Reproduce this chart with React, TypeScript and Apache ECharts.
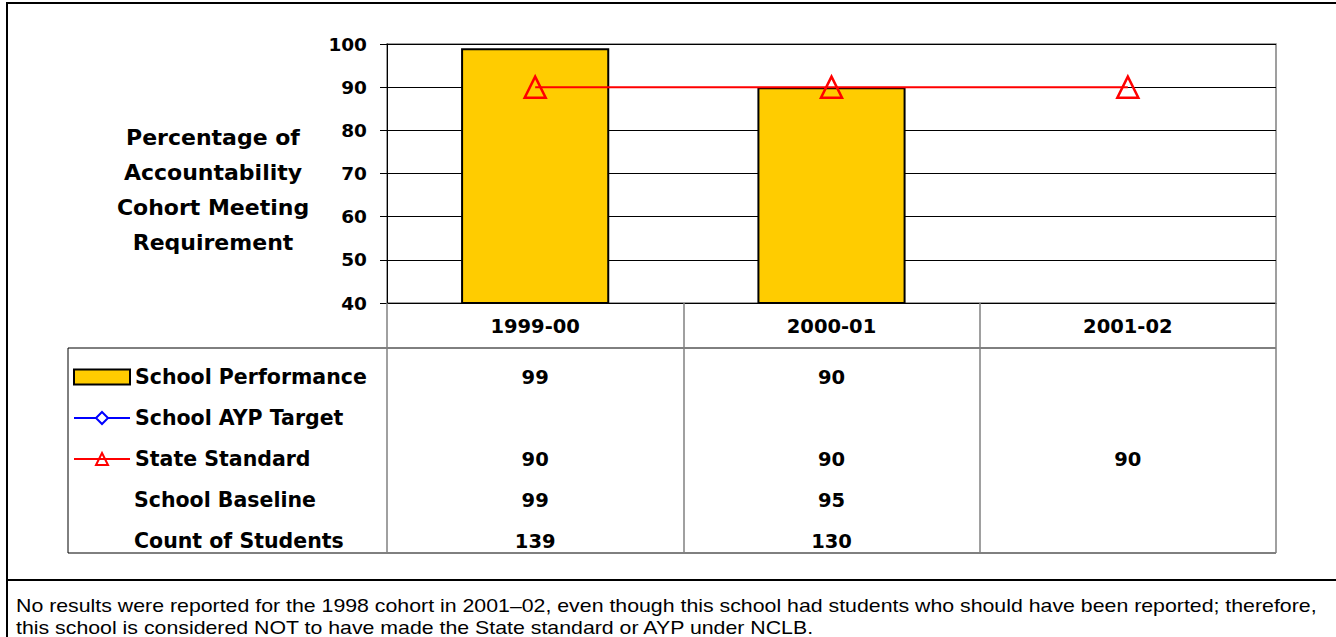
import React, { useEffect, useRef } from "react";
import * as echarts from "echarts";

const categories = ["1999-00", "2000-01", "2001-02"];
const schoolPerformance: (number | null)[] = [99, 90, null];
const schoolAypTarget: (number | null)[] = [null, null, null];
const stateStandard: (number | null)[] = [90, 90, 90];
const schoolBaseline: (number | null)[] = [99, 95, null];
const countOfStudents: (number | null)[] = [139, 130, null];
const yMin = 40;
const yMax = 100;
const yInterval = 10;

const rowNames = [
  "School Performance",
  "School AYP Target",
  "State Standard",
  "School Baseline",
  "Count of Students",
];
const rowValues = [schoolPerformance, schoolAypTarget, stateStandard, schoolBaseline, countOfStudents];

const yTitle = ["Percentage of", "Accountability", "Cohort Meeting", "Requirement"];
const caption =
  "No results were reported for the 1998 cohort in 2001\u201302, even though this school had students who should have been reported; therefore,\nthis school is considered NOT to have made the State standard or AYP under NCLB.";

const BOLD = "DejaVu Sans";

export default function App() {
  const ref = useRef<HTMLDivElement>(null);
  useEffect(() => {
    if (!ref.current) return;
    const chart = echarts.init(ref.current, undefined, { renderer: "svg" });

    const gridTop = 44;
    const gridBottomY = 303;
    const rowCenters = [377, 418, 459, 500, 541];

    const valueAxes = rowValues.map((vals, r) => ({
      type: "category",
      gridIndex: 0,
      position: "bottom",
      data: categories,
      axisLine: { show: false },
      axisTick: { show: false },
      splitLine: { show: false },
      axisLabel: {
        interval: 0,
        margin: rowCenters[r] - gridBottomY,
        verticalAlign: "middle",
        fontFamily: BOLD,
        fontWeight: "bold",
        fontSize: 19.5,
        color: "#000",
        formatter: (_v: string, i: number) => (vals[i] == null ? "" : String(vals[i])),
      },
    }));

    const option: any = {
      animation: false,
      backgroundColor: "#fff",
      grid: {
        left: 387,
        top: gridTop,
        right: 60,
        bottom: 637 - gridBottomY,
        show: true,
        borderColor: "#808080",
        borderWidth: 1.5,
      },
      xAxis: [
        {
          type: "category",
          gridIndex: 0,
          position: "bottom",
          data: categories,
          axisLine: { show: true, lineStyle: { color: "#000", width: 1 } },
          axisTick: {
            show: true,
            length: 553 - gridBottomY,
            lineStyle: { color: "#808080", width: 1.5 },
          },
          splitLine: { show: false },
          axisLabel: {
            interval: 0,
            margin: 23,
            verticalAlign: "middle",
            fontFamily: BOLD,
            fontWeight: "bold",
            fontSize: 19.5,
            color: "#000",
          },
        },
        ...valueAxes,
      ],
      yAxis: {
        type: "value",
        min: yMin,
        max: yMax,
        interval: yInterval,
        axisLine: { show: true, lineStyle: { color: "#000", width: 1 } },
        axisTick: { show: true, length: 7, lineStyle: { color: "#000" } },
        axisLabel: {
          margin: 20,
          fontFamily: BOLD,
          fontWeight: "bold",
          fontSize: 18.5,
          color: "#000",
        },
        splitLine: { show: true, lineStyle: { color: "#000", width: 1 } },
      },
      legend: {
        orient: "vertical",
        left: 73,
        top: 365,
        padding: 0,
        itemWidth: 56,
        itemHeight: 15,
        itemGap: 17,
        selectedMode: false,
        textStyle: {
          fontFamily: BOLD,
          fontWeight: "bold",
          fontSize: 20.5,
          color: "#000",
          lineHeight: 24,
        },
        data: [
          { name: rowNames[0], icon: "rect" },
          { name: rowNames[1] },
          { name: rowNames[2] },
        ],
      },
      series: [
        {
          name: rowNames[0],
          type: "bar",
          xAxisIndex: 0,
          data: schoolPerformance,
          barWidth: "50%",
          clip: true,
          itemStyle: { color: "#FFCC00", borderColor: "#000", borderWidth: 2 },
        },
        {
          name: rowNames[1],
          type: "line",
          xAxisIndex: 0,
          data: schoolAypTarget,
          symbol: "diamond",
          symbolSize: 14,
          lineStyle: { color: "#0000FF", width: 2 },
          itemStyle: { color: "#fff", borderColor: "#0000FF", borderWidth: 2 },
        },
        {
          name: rowNames[2],
          type: "line",
          xAxisIndex: 0,
          data: stateStandard,
          symbol: "triangle",
          symbolSize: 21,
          z: 5,
          lineStyle: { color: "#FF0000", width: 2 },
          itemStyle: { color: "rgba(0,0,0,0)", borderColor: "#FF0000", borderWidth: 2.5 },
        },
      ],
      graphic: [
        // outer frame
        { type: "line", shape: { x1: 6, y1: 3, x2: 1336, y2: 3 }, style: { stroke: "#000", lineWidth: 2 } },
        { type: "line", shape: { x1: 7, y1: 2, x2: 7, y2: 637 }, style: { stroke: "#000", lineWidth: 2 } },
        { type: "line", shape: { x1: 6, y1: 580, x2: 1336, y2: 580 }, style: { stroke: "#000", lineWidth: 2 } },
        // data table frame
        {
          type: "polyline",
          shape: { points: [[1276, 348], [68, 348], [68, 553], [1276, 553]] },
          style: { stroke: "#000", lineWidth: 1, fill: null },
        },
        // y axis title
        ...yTitle.map((t, i) => ({
          type: "text",
          x: 213,
          y: 137 + i * 35,
          style: {
            text: t,
            fontFamily: BOLD,
            fontWeight: "bold",
            fontSize: 22,
            fill: "#000",
            align: "center",
            verticalAlign: "middle",
          },
        })),
        // remaining table row labels
        ...[3, 4].map((r) => ({
          type: "text",
          x: 134,
          y: rowCenters[r],
          style: {
            text: rowNames[r],
            fontFamily: BOLD,
            fontWeight: "bold",
            fontSize: 20.5,
            fill: "#000",
            align: "left",
            verticalAlign: "middle",
          },
        })),
        // caption
        {
          type: "text",
          x: 16,
          y: 595,
          scaleX: 1.205,
          style: {
            text: caption,
            fontFamily: "Liberation Sans, Arial, sans-serif",
            fontSize: 17.7,
            lineHeight: 21.5,
            fill: "#000",
            align: "left",
            verticalAlign: "top",
          },
        },
      ],
    };
    chart.setOption(option);
    return () => chart.dispose();
  }, []);

  return (
    <div
      ref={ref}
      style={{ position: "absolute", left: 0, top: 0, width: 1336, height: 637 }}
    />
  );
}
